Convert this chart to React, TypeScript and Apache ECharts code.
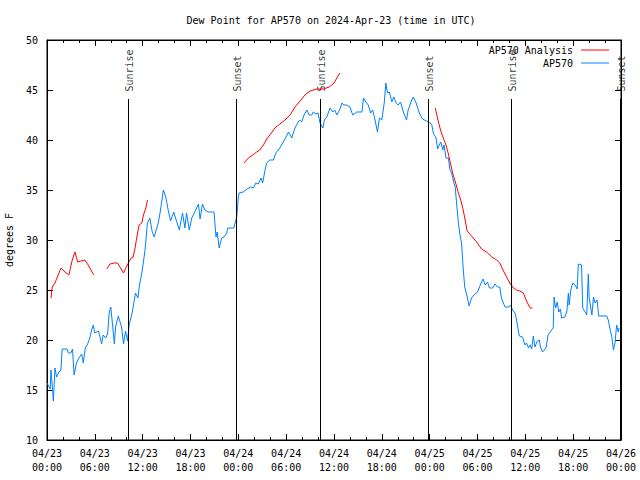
import React, { useEffect, useRef } from "react";
import * as echarts from "echarts";

// hours since 2024-04-23 00:00 UTC
const xTickLabels = [
  "04/23\n00:00", "04/23\n06:00", "04/23\n12:00", "04/23\n18:00",
  "04/24\n00:00", "04/24\n06:00", "04/24\n12:00", "04/24\n18:00",
  "04/25\n00:00", "04/25\n06:00", "04/25\n12:00", "04/25\n18:00",
  "04/26\n00:00",
];

const obsTimes = [
  0.0, 0.4, 0.5, 0.8, 1.0, 1.2, 1.5, 1.75, 1.9, 2.5, 2.7, 3.0, 3.2, 3.4, 3.7, 4.0, 4.35, 4.55, 4.8, 5.1,
  5.4, 5.6, 5.8, 6.0, 6.45, 6.65, 6.85, 7.05, 7.35, 7.6, 7.8, 8.0, 8.2, 8.45, 8.6, 8.95, 9.2, 9.35, 9.6, 9.85,
  10.1, 10.3, 10.7, 11.1, 11.4, 11.6, 11.9, 12.3, 12.6, 12.9, 13.2, 13.45, 13.95, 14.2, 14.6, 14.9, 15.2, 15.5, 15.9, 16.2,
  16.6, 17.0, 17.3, 17.5, 17.85, 18.15, 18.55, 19.0, 19.2, 19.5, 19.8, 20.2, 20.95, 21.1, 21.2, 21.35, 21.6, 21.9, 22.2, 22.55,
  22.65, 23.45, 23.6, 23.8, 23.9, 24.0, 24.1, 24.6, 25.1, 25.55, 25.9, 26.2, 26.5, 26.85, 27.05, 27.35, 27.55, 27.95, 28.4, 28.7,
  29.2, 29.85, 30.3, 30.7, 31.1, 31.5, 31.7, 31.95, 32.25, 32.6, 32.9, 33.2, 33.4, 33.75, 34.0, 34.25, 34.6, 34.8, 35.1, 35.5,
  35.85, 36.1, 36.35, 36.7, 37.0, 37.25, 37.6, 38.0, 38.35, 38.85, 39.5, 39.7, 40.0, 40.3, 40.6, 40.85, 41.15, 41.45, 41.7, 42.0,
  42.3, 42.5, 42.7, 42.95, 43.25, 43.5, 43.8, 44.05, 44.35, 44.7, 45.1, 45.3, 45.75, 45.95, 46.3, 46.7, 47.1, 47.6, 48.25, 48.45,
  48.8, 49.0, 49.2, 49.4, 49.65, 49.8, 50.05, 50.35, 50.55, 50.75, 50.95, 51.2, 51.4, 51.6, 51.8, 52.0, 52.2, 52.4, 52.65, 52.95,
  53.25, 53.55, 53.9, 54.1, 54.4, 54.7, 54.95, 55.25, 55.5, 55.9, 56.2, 56.5, 56.8, 57.0, 57.45, 57.95, 58.15, 58.4, 58.7, 58.9,
  59.1, 59.25, 59.65, 59.95, 60.15, 60.4, 60.6, 60.8, 61.0, 61.2, 61.5, 61.75, 61.9, 62.15, 62.6, 62.85, 63.3, 63.5, 63.6, 63.8,
  64.0, 64.2, 64.4, 64.55, 64.95, 65.2, 65.4, 65.5, 65.7, 65.95, 66.25, 66.5, 66.65, 67.05, 67.2, 67.5, 67.7, 67.9, 68.0, 68.35,
  68.55, 68.75, 69.0, 69.2, 70.2, 70.4, 70.65, 70.85, 71.05, 71.25, 71.45, 71.65, 71.75,
];
const obsValues = [
  15.7, 15.1, 17.0, 13.9, 17.2, 16.3, 16.8, 17.0, 19.1, 19.1, 18.7, 18.7, 19.1, 16.5, 17.7, 18.2, 18.6, 17.7, 19.2, 19.6,
  20.3, 21.0, 21.5, 20.7, 20.9, 20.3, 19.6, 20.5, 20.2, 20.6, 22.7, 23.3, 21.7, 19.6, 21.3, 22.4, 21.7, 21.3, 19.6, 20.9,
  19.9, 21.5, 22.8, 24.7, 24.2, 25.5, 26.7, 29.0, 31.7, 32.2, 30.8, 30.3, 31.7, 32.8, 35.0, 34.3, 33.0, 31.9, 32.8, 32.0,
  31.0, 32.7, 31.2, 32.7, 31.0, 32.2, 32.8, 33.6, 32.1, 33.6, 33.0, 32.8, 32.8, 31.3, 30.3, 30.8, 29.2, 30.2, 30.3, 30.7,
  31.2, 31.2, 31.7, 32.3, 33.3, 34.3, 34.7, 34.8, 35.1, 35.3, 35.2, 35.7, 35.6, 36.2, 35.7, 37.0, 37.7, 38.0, 38.0, 38.7,
  39.2, 40.1, 40.8, 40.2, 41.2, 41.8, 42.0, 41.8, 42.5, 43.0, 42.5, 42.5, 42.8, 42.6, 42.7, 41.7, 41.2, 42.0, 42.3, 43.2,
  42.8, 43.0, 42.5, 43.0, 43.7, 43.5, 43.5, 43.3, 42.5, 42.8, 42.8, 44.2, 43.8, 43.5, 42.7, 43.0, 42.0, 40.8, 42.2, 42.0,
  43.7, 45.7, 44.7, 44.8, 43.8, 44.3, 43.7, 43.5, 43.8, 42.8, 42.0, 43.0, 44.0, 44.3, 43.7, 42.7, 42.1, 41.9, 41.6, 40.7,
  40.2, 39.1, 39.5, 39.8, 39.0, 39.5, 38.2, 38.2, 37.0, 36.7, 36.0, 35.3, 33.5, 31.7, 30.5, 29.7, 27.2, 25.3, 24.5, 23.4,
  24.2, 24.5, 24.7, 25.0, 25.6, 26.1, 25.5, 25.8, 25.2, 25.2, 25.6, 25.3, 25.3, 24.2, 23.3, 23.3, 23.5, 23.0, 22.7, 22.0,
  21.0, 20.4, 20.3, 19.5, 19.7, 19.2, 19.5, 19.1, 20.4, 19.3, 19.9, 20.0, 19.3, 18.8, 19.2, 20.5, 21.0, 21.2, 24.3, 23.2,
  23.8, 22.8, 23.1, 22.2, 22.3, 22.8, 24.7, 23.5, 25.0, 25.7, 25.5, 25.1, 27.6, 27.5, 23.2, 22.8, 22.5, 26.6, 24.3, 22.5,
  24.3, 23.7, 24.0, 22.4, 22.4, 22.0, 21.0, 20.3, 19.0, 19.7, 21.5, 20.8, 21.2,
];

// "-" marks a gap in the analysis series
const anaTimes = [
  0.5, 0.65, 1.0, 1.4, 1.75, 2.25, 2.75, 3.1, 3.5, 3.85, 4.25, 4.75, 5.25, 5.85, 6.6,
  7.5, 7.9, 8.45, 8.85, 9.3, 9.6, 10.2, 10.55, 10.8, 11.0, 11.25, 11.55, 11.9, 12.1, 12.4, 12.6, 18.0,
  24.7, 25.25, 25.8, 26.3, 26.7, 27.15, 27.55, 28.05, 28.6, 29.2, 29.85, 30.5, 31.1, 31.75, 32.35, 33.0, 33.8, 34.65,
  35.4, 36.0, 36.35, 36.75, 42.0,
  48.7, 49.1, 49.4, 49.7, 50.05, 50.35, 50.65, 50.95, 51.3, 51.6, 51.9, 52.15, 52.45, 52.7, 53.25, 53.9, 54.5, 55.15,
  55.8, 56.4, 56.8, 57.2, 57.65, 58.05, 58.5, 58.9, 59.3, 59.75, 60.1, 60.4, 60.6, 60.9,
];
const anaValues: (number | string)[] = [
  24.2, 25.3, 25.7, 26.5, 27.2, 26.8, 26.5, 27.8, 28.8, 27.8, 27.9, 28.0, 27.4, 26.5, "-",
  27.1, 27.6, 27.7, 27.7, 27.1, 26.7, 27.7, 28.2, 28.3, 29.0, 30.2, 31.5, 31.7, 32.5, 33.2, 34.0, "-",
  37.7, 38.2, 38.5, 38.8, 39.0, 39.5, 40.1, 40.6, 41.2, 41.6, 42.0, 42.5, 43.3, 43.9, 44.5, 44.9, 45.1, 45.1,
  45.3, 45.7, 46.2, 46.7, "-",
  43.2, 41.8, 40.9, 40.2, 39.5, 38.6, 37.5, 36.5, 35.6, 34.7, 34.0, 33.2, 32.0, 30.9, 30.4, 29.8, 29.1, 28.8,
  28.3, 28.0, 27.7, 27.0, 26.3, 25.7, 25.2, 25.0, 24.9, 24.7, 24.0, 23.5, 23.2, 23.2,
];

const eventTimes = [10.15, 23.75, 34.25, 47.8, 58.2, 71.92];
const eventNames = ["Sunrise", "Sunset", "Sunrise", "Sunset", "Sunrise", "Sunset"];

const FONT = "DejaVu Sans Mono";

export default function App() {
  const ref = useRef<HTMLDivElement>(null);
  useEffect(() => {
    if (!ref.current) return;
    const chart = echarts.init(ref.current, null, { renderer: "svg" });
    const txt = { fontFamily: FONT, fontSize: 10, color: "#000" };
    const axisLine = { show: true, onZero: false, lineStyle: { color: "#000", width: 1 } };
    const xBase = {
      type: "value" as const,
      min: 0,
      max: 72,
      interval: 6,
      splitLine: { show: false },
      axisLine,
      axisTick: { show: true, inside: true, length: 6, lineStyle: { color: "#000" } },
      minorTick: { show: true, splitNumber: 3, length: 3, lineStyle: { color: "#000" } },
    };
    const yBase = {
      type: "value" as const,
      min: 10,
      max: 50,
      interval: 5,
      splitLine: { show: false },
      axisLine,
      axisTick: { show: true, inside: true, length: 6, lineStyle: { color: "#000" } },
    };
    chart.setOption({
      animation: false,
      backgroundColor: "#fff",
      title: {
        text: "Dew Point for AP570 on 2024-Apr-23 (time in UTC)",
        left: 326,
        top: 10,
        textAlign: "center",
        textStyle: { ...txt, fontWeight: "normal" },
      },
      legend: {
        data: ["AP570 Analysis", "AP570"],
        orient: "vertical",
        right: 26,
        top: 39,
        align: "right",
        icon: "rect",
        itemWidth: 28,
        itemHeight: 1,
        itemGap: 1,
        textStyle: { ...txt, lineHeight: 12, padding: [0, 3, 0, 0] },
      },
      grid: {
        left: 47,
        right: 19,
        top: 40,
        bottom: 40,
        show: true,
        borderColor: "#000",
        borderWidth: 1,
        backgroundColor: "transparent",
        containLabel: false,
        outerBoundsMode: "none",
      },
      xAxis: [
        {
          ...xBase,
          position: "bottom",
          axisLabel: {
            ...txt,
            margin: 6,
            lineHeight: 14,
            formatter: (v: number) => xTickLabels[Math.round(v / 6)] ?? "",
          },
        },
        { ...xBase, position: "top", axisLabel: { show: false } },
      ],
      yAxis: [
        {
          ...yBase,
          position: "left",
          name: "degrees F",
          nameLocation: "middle",
          nameGap: 33,
          nameRotate: 90,
          nameTextStyle: txt,
          axisLabel: { ...txt, margin: 9 },
        },
        { ...yBase, position: "right", axisLabel: { show: false } },
      ],
      series: [
        {
          name: "AP570 Analysis",
          type: "line",
          symbol: "none",
          connectNulls: false,
          data: anaTimes.map((t, i) => [t, anaValues[i]]),
          lineStyle: { color: "#ff0000", width: 1 },
          itemStyle: { color: "#ff0000" },
        },
        {
          name: "AP570",
          type: "line",
          symbol: "none",
          data: obsTimes.map((t, i) => [t, obsValues[i]]),
          lineStyle: { color: "#0080ff", width: 1 },
          itemStyle: { color: "#0080ff" },
        },
        {
          name: "events",
          type: "scatter",
          symbolSize: 1,
          silent: true,
          clip: false,
          itemStyle: { color: "transparent" },
          data: eventTimes.map((t, i) => ({ value: [t, 44.8], name: eventNames[i] })),
          label: {
            show: true,
            formatter: "{b}",
            position: [0, 0],
            rotate: 90,
            align: "left",
            verticalAlign: "middle",
            offset: [0, 2],
            ...txt,
          },
          markLine: {
            silent: true,
            symbol: ["none", "none"],
            label: { show: false },
            lineStyle: { color: "#000", width: 1, type: "solid" },
            data: eventTimes.map((t) => [{ coord: [t, 10] }, { coord: [t, 44.1] }]),
          },
        },
      ],
    });
    return () => chart.dispose();
  }, []);
  return (
    <div
      ref={ref}
      style={{ position: "fixed", left: 0, top: 0, width: 640, height: 480, background: "#fff" }}
    />
  );
}
